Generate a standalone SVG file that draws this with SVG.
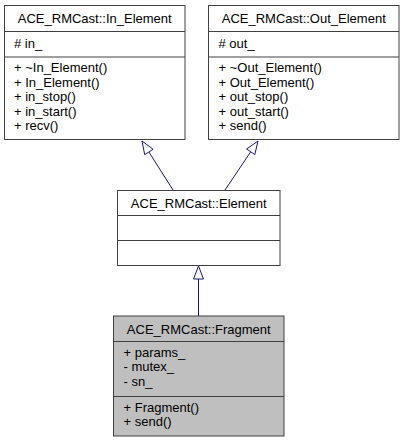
<svg xmlns="http://www.w3.org/2000/svg" width="404" height="443" viewBox="0 0 404 443">
<style>
.box{fill:#ffffff;stroke:#404040;stroke-width:1}
.cur{fill:#bfbfbf;stroke:#404040;stroke-width:1}
.sep{stroke:#404040;stroke-width:1;fill:none}
.t{font-family:"Liberation Sans",Arial,sans-serif;font-size:13px;fill:#000000}
.c{text-anchor:middle}
.edge{stroke:#191970;stroke-width:1;fill:none}
.head{stroke:#191970;stroke-width:1;fill:#ffffff}
</style>
<rect width="404" height="443" fill="#ffffff"/>
<g id="connectors">
<path class="edge" d="M173,190 L148.9,152"/>
<polygon class="head" points="142,141 153.1,149.3 144.7,154.7"/>
<path class="edge" d="M225,190 L250.7,151.8"/>
<polygon class="head" points="258,141 254.8,154.6 246.6,149"/>
<path class="edge" d="M198.5,316 L198.5,279"/>
<polygon class="head" points="198.5,266 193.5,279 203.5,279"/>
</g>
<g id="in_element">
<rect class="box" x="4.5" y="5.5" width="180.5" height="134"/>
<path class="sep" d="M4.5,31.5 H185 M4.5,57 H185"/>
<text class="t c" x="94.75" y="23">ACE_RMCast::In_Element</text>
<text class="t" x="14" y="48">#  in_</text>
<text class="t" x="14" y="72">+ ~In_Element()</text>
<text class="t" x="14" y="86.5">+ In_Element()</text>
<text class="t" x="14" y="101">+ in_stop()</text>
<text class="t" x="14" y="115.5">+ in_start()</text>
<text class="t" x="14" y="130">+ recv()</text>
</g>
<g id="out_element">
<rect class="box" x="208.5" y="5.5" width="190.5" height="134"/>
<path class="sep" d="M208.5,31.5 H399 M208.5,57 H399"/>
<text class="t c" x="303.75" y="23">ACE_RMCast::Out_Element</text>
<text class="t" x="218.5" y="48">#  out_</text>
<text class="t" x="218.5" y="72">+ ~Out_Element()</text>
<text class="t" x="218.5" y="86.5">+ Out_Element()</text>
<text class="t" x="218.5" y="101">+ out_stop()</text>
<text class="t" x="218.5" y="115.5">+ out_start()</text>
<text class="t" x="218.5" y="130">+ send()</text>
</g>
<g id="element">
<rect class="box" x="117.5" y="190.5" width="162.5" height="75"/>
<path class="sep" d="M117.5,215.5 H280 M117.5,240.5 H280"/>
<text class="t c" x="198.75" y="208">ACE_RMCast::Element</text>
</g>
<g id="fragment">
<rect class="cur" x="113.5" y="316" width="170.5" height="120"/>
<path class="sep" d="M113.5,341.5 H284 M113.5,396.5 H284"/>
<text class="t c" x="198.75" y="333.5">ACE_RMCast::Fragment</text>
<text class="t" x="123.5" y="356.5">+ params_</text>
<text class="t" x="123.5" y="371">- mutex_</text>
<text class="t" x="123.5" y="385.5">- sn_</text>
<text class="t" x="123.5" y="411.5">+ Fragment()</text>
<text class="t" x="123.5" y="426">+ send()</text>
</g>
</svg>
